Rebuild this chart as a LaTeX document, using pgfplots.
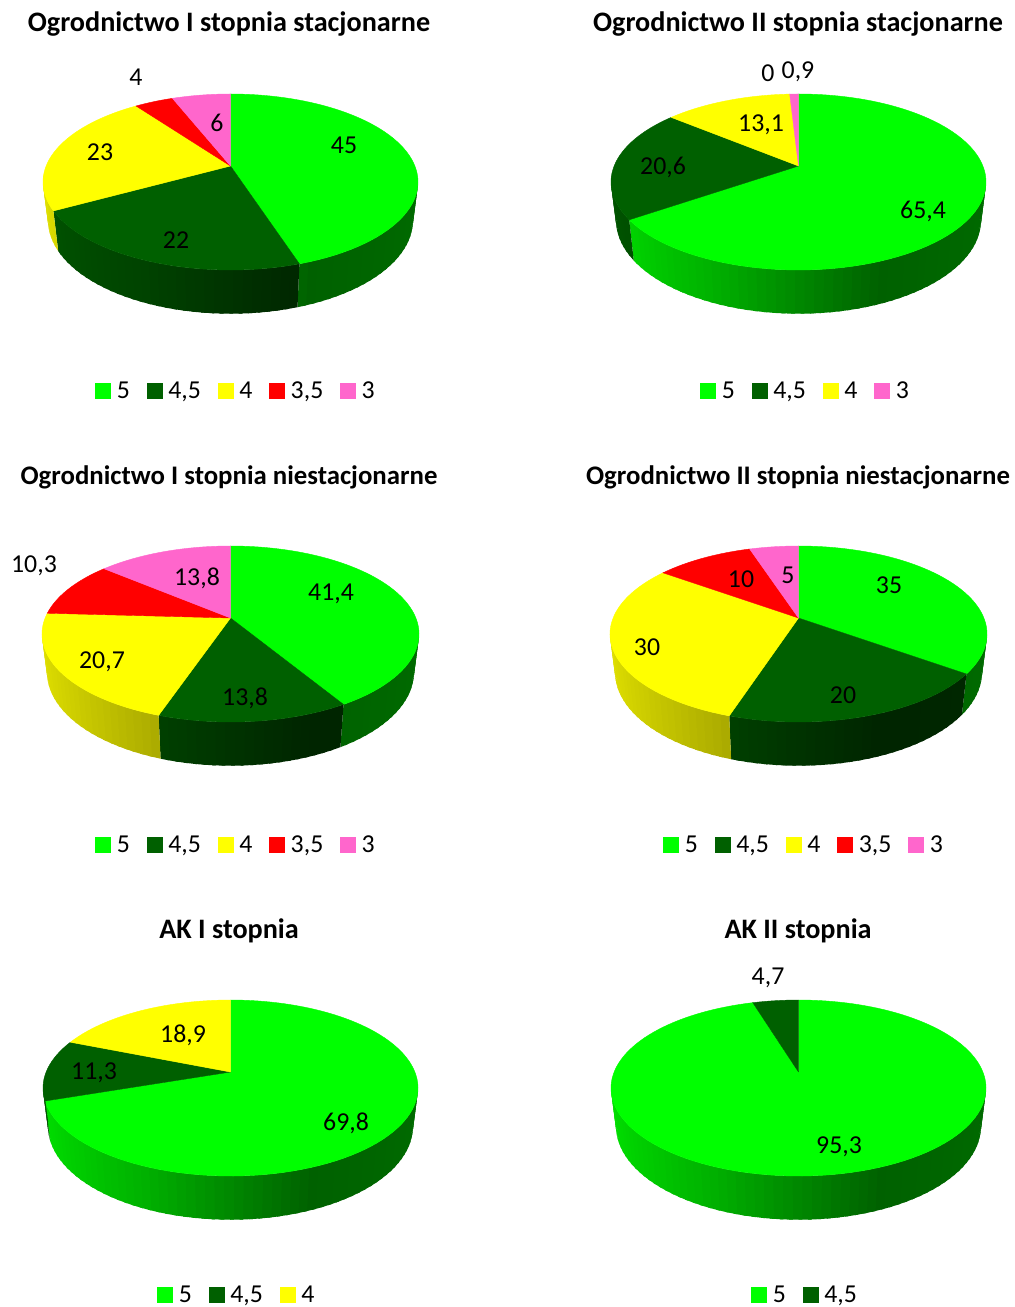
\documentclass[border=0pt]{standalone}
\usepackage{fontspec}
\setmainfont{Carlito}
\usepackage{pgfplots}
\pgfplotsset{compat=1.18}

\definecolor{pgreen}{HTML}{00FF00}
\definecolor{pdark}{HTML}{006000}
\definecolor{pyellow}{HTML}{FFFF00}
\definecolor{pred}{HTML}{FF0000}
\definecolor{ppink}{HTML}{FF66CC}

% one axis unit = one pixel of the reference, y runs downwards
\pgfplotsset{pieaxis/.style={
    hide axis, clip=false, scale only axis,
    at={(0pt,0pt)}, anchor=south west,
    width=507pt, height=653.5pt,
    xmin=0, xmax=1014, ymin=0, ymax=1307, y dir=reverse,
    title style={anchor=center, yshift=-6.75pt, font=\fontsize{14.1}{16}\selectfont\bfseries},
    legend image code/.code={\fill[##1] (0pt,-3.75pt) rectangle (7.5pt,3.75pt);},
    legend style={draw=none, fill=none, inner sep=0pt, anchor=west,
      legend columns=-1, font=\fontsize{12.9}{15}\selectfont,
      nodes={inner sep=0pt},
      /tikz/every even column/.append style={column sep=8.5pt},
      /tikz/every odd column/.append style={column sep=3pt}},
    nodes={font=\fontsize{12.9}{15}\selectfont, yshift=-0.6pt},
}}

% perspective of the disc: far half is squeezed by \pk
\def\pk{0.1818}
\def\rb{85.1}
\newcommand\toppt[3]{%
  \pgfmathsetmacro#2{\cx+\ra*sin(#1)/(1+\pk*cos(#1))}%
  \pgfmathsetmacro#3{\cy-\rb*cos(#1)/(1+\pk*cos(#1))}}
\newcommand\lowpt[3]{%
  \pgfmathsetmacro#2{\cx+0.973*\ra*sin(#1)/(1+\pk*cos(#1))}%
  \pgfmathsetmacro#3{\cy+37.5-1.06*\rb*cos(#1)/(1+\pk*cos(#1))}}
\newcommand\piestart[3]{\def\cx{#1}\def\cy{#2}\def\ra{#3}\gdef\cum{0}}

% #1 colour, #2 percentage; slices run clockwise from the top
\newcommand\pieslice[2]{%
  \pgfmathsetmacro\tA{\cum*3.6}%
  \pgfmathsetmacro\tB{(\cum+#2)*3.6}%
  \pgfmathtruncatemacro\N{max(1,ceil((\tB-\tA)/2.5))}%
  \pgfmathtruncatemacro\Nm{\N-1}%
  \pgfmathsetmacro\dt{(\tB-\tA)/\N}%
  \foreach \i in {0,...,\Nm} {%
    \pgfmathsetmacro\ta{\tA+\dt*\i}%
    \pgfmathsetmacro\tm{\ta+\dt/2}%
    % each strip runs a little under the next one, so no seams show
    \pgfmathsetmacro\tb{\ta+\dt+(\i<\Nm ? 1 : 0)}%
    \pgfmathtruncatemacro\vis{cos(\tm)<-0.14 ? 1 : 0}%
    \ifnum\vis=1
      \pgfmathsetmacro\um{sin(\tm)}%
      \pgfmathsetmacro\F{\um<-0.38 ? 88-(\um+1)*30.6 : (\um<0.37 ? 69-(\um+0.38)*41.3 : 38+(\um-0.37)*6)}%
      \toppt{\ta}{\xa}{\ya}\toppt{\tb}{\xb}{\yb}%
      \lowpt{\ta}{\xc}{\yc}\lowpt{\tb}{\xd}{\yd}%
      \edef\temp{\noexpand\addplot[forget plot, fill=#1!\F!black, draw=none]
        coordinates {(\xa,\ya) (\xb,\yb) (\xd,\yd) (\xc,\yc) (\xa,\ya)};}\temp
    \fi
  }%
  \gdef\coords{(\cx,\cy)}%
  \foreach \i in {0,...,\N} {%
    \pgfmathsetmacro\ta{\tA+\dt*\i}%
    \toppt{\ta}{\xa}{\ya}%
    \xdef\coords{\coords (\xa,\ya)}%
  }%
  \edef\temp{\noexpand\addplot[fill=#1, draw=#1, line width=0.2pt] coordinates {\coords (\cx,\cy)};}\temp
  \pgfmathsetmacro\newcum{\cum+#2}%
  \xdef\cum{\newcum}%
}

\begin{document}
\begin{tikzpicture}
\path[use as bounding box] (0pt,0pt) rectangle (507pt,653.5pt);

\begin{axis}[pieaxis, title={Ogrodnictwo I stopnia stacjonarne},
    title style={at={(0.22584,0.9835)}}, legend style={at={(0.09369,0.7012)}}]
  \piestart{230.5}{166}{184.4}
  \pieslice{pgreen}{45}\addlegendentry{5}
  \pieslice{pdark}{22}\addlegendentry{4,5}
  \pieslice{pyellow}{23}\addlegendentry{4}
  \pieslice{pred}{4}\addlegendentry{3,5}
  \pieslice{ppink}{6}\addlegendentry{3}
  \node at (axis cs:344,144) {45};
  \node at (axis cs:176,239) {22};
  \node at (axis cs:100,151) {23};
  \node at (axis cs:136,76) {4};
  \node at (axis cs:217,122) {6};
\end{axis}

\begin{axis}[pieaxis, title={Ogrodnictwo II stopnia stacjonarne},
    title style={at={(0.78698,0.9835)}}, legend style={at={(0.69034,0.7012)}}]
  \piestart{798.5}{166}{184.4}
  \pieslice{pgreen}{65.4}\addlegendentry{5}
  \pieslice{pdark}{20.6}\addlegendentry{4,5}
  \pieslice{pyellow}{13.1}\addlegendentry{4}
  % 3,5 has the value 0: only its label shows
  \pieslice{ppink}{0.9}\addlegendentry{3}
  \node at (axis cs:923,210) {65,4};
  \node at (axis cs:663,166) {20,6};
  \node at (axis cs:761,124) {13,1};
  \node at (axis cs:768,72) {0};
  \node at (axis cs:798,71) {0,9};
\end{axis}

\begin{axis}[pieaxis, title={Ogrodnictwo I stopnia niestacjonarne},
    title style={at={(0.22584,0.63657)}, font=\fontsize{13.4}{16}\selectfont\bfseries},
    legend style={at={(0.09369,0.3538)}}]
  \piestart{230.5}{618}{185.4}
  \pieslice{pgreen}{41.4}\addlegendentry{5}
  \pieslice{pdark}{13.8}\addlegendentry{4,5}
  \pieslice{pyellow}{20.7}\addlegendentry{4}
  \pieslice{pred}{10.3}\addlegendentry{3,5}
  \pieslice{ppink}{13.8}\addlegendentry{3}
  \node at (axis cs:331,593) {41,4};
  \node at (axis cs:245,697) {13,8};
  \node at (axis cs:102,661) {20,7};
  \node at (axis cs:34,565) {10,3};
  \node at (axis cs:197,577) {13,8};
\end{axis}

\begin{axis}[pieaxis, title={Ogrodnictwo II stopnia niestacjonarne},
    title style={at={(0.78698,0.63657)}, font=\fontsize{13.4}{16}\selectfont\bfseries},
    legend style={at={(0.65385,0.3538)}}]
  \piestart{798.5}{618}{185.4}
  \pieslice{pgreen}{35}\addlegendentry{5}
  \pieslice{pdark}{20}\addlegendentry{4,5}
  \pieslice{pyellow}{30}\addlegendentry{4}
  \pieslice{pred}{10}\addlegendentry{3,5}
  \pieslice{ppink}{5}\addlegendentry{3}
  \node at (axis cs:889,584) {35};
  \node at (axis cs:843,694) {20};
  \node at (axis cs:647,646) {30};
  \node at (axis cs:741,578) {10};
  \node at (axis cs:788,574) {5};
\end{axis}

\begin{axis}[pieaxis, title={AK I stopnia},
    title style={at={(0.22584,0.2900)}}, legend style={at={(0.15483,0.0092)}}]
  \piestart{230.5}{1072}{184.4}
  \pieslice{pgreen}{69.8}\addlegendentry{5}
  \pieslice{pdark}{11.3}\addlegendentry{4,5}
  \pieslice{pyellow}{18.9}\addlegendentry{4}
  \node at (axis cs:346,1122) {69,8};
  \node at (axis cs:94,1072) {11,3};
  \node at (axis cs:183,1034) {18,9};
\end{axis}

\begin{axis}[pieaxis, title={AK II stopnia},
    title style={at={(0.78698,0.2900)}}, legend style={at={(0.74063,0.0092)}}]
  \piestart{798.5}{1072}{184.4}
  \pieslice{pgreen}{95.3}\addlegendentry{5}
  \pieslice{pdark}{4.7}\addlegendentry{4,5}
  \node at (axis cs:839,1146) {95,3};
  \node at (axis cs:768,977) {4,7};
\end{axis}
\end{tikzpicture}
\end{document}
